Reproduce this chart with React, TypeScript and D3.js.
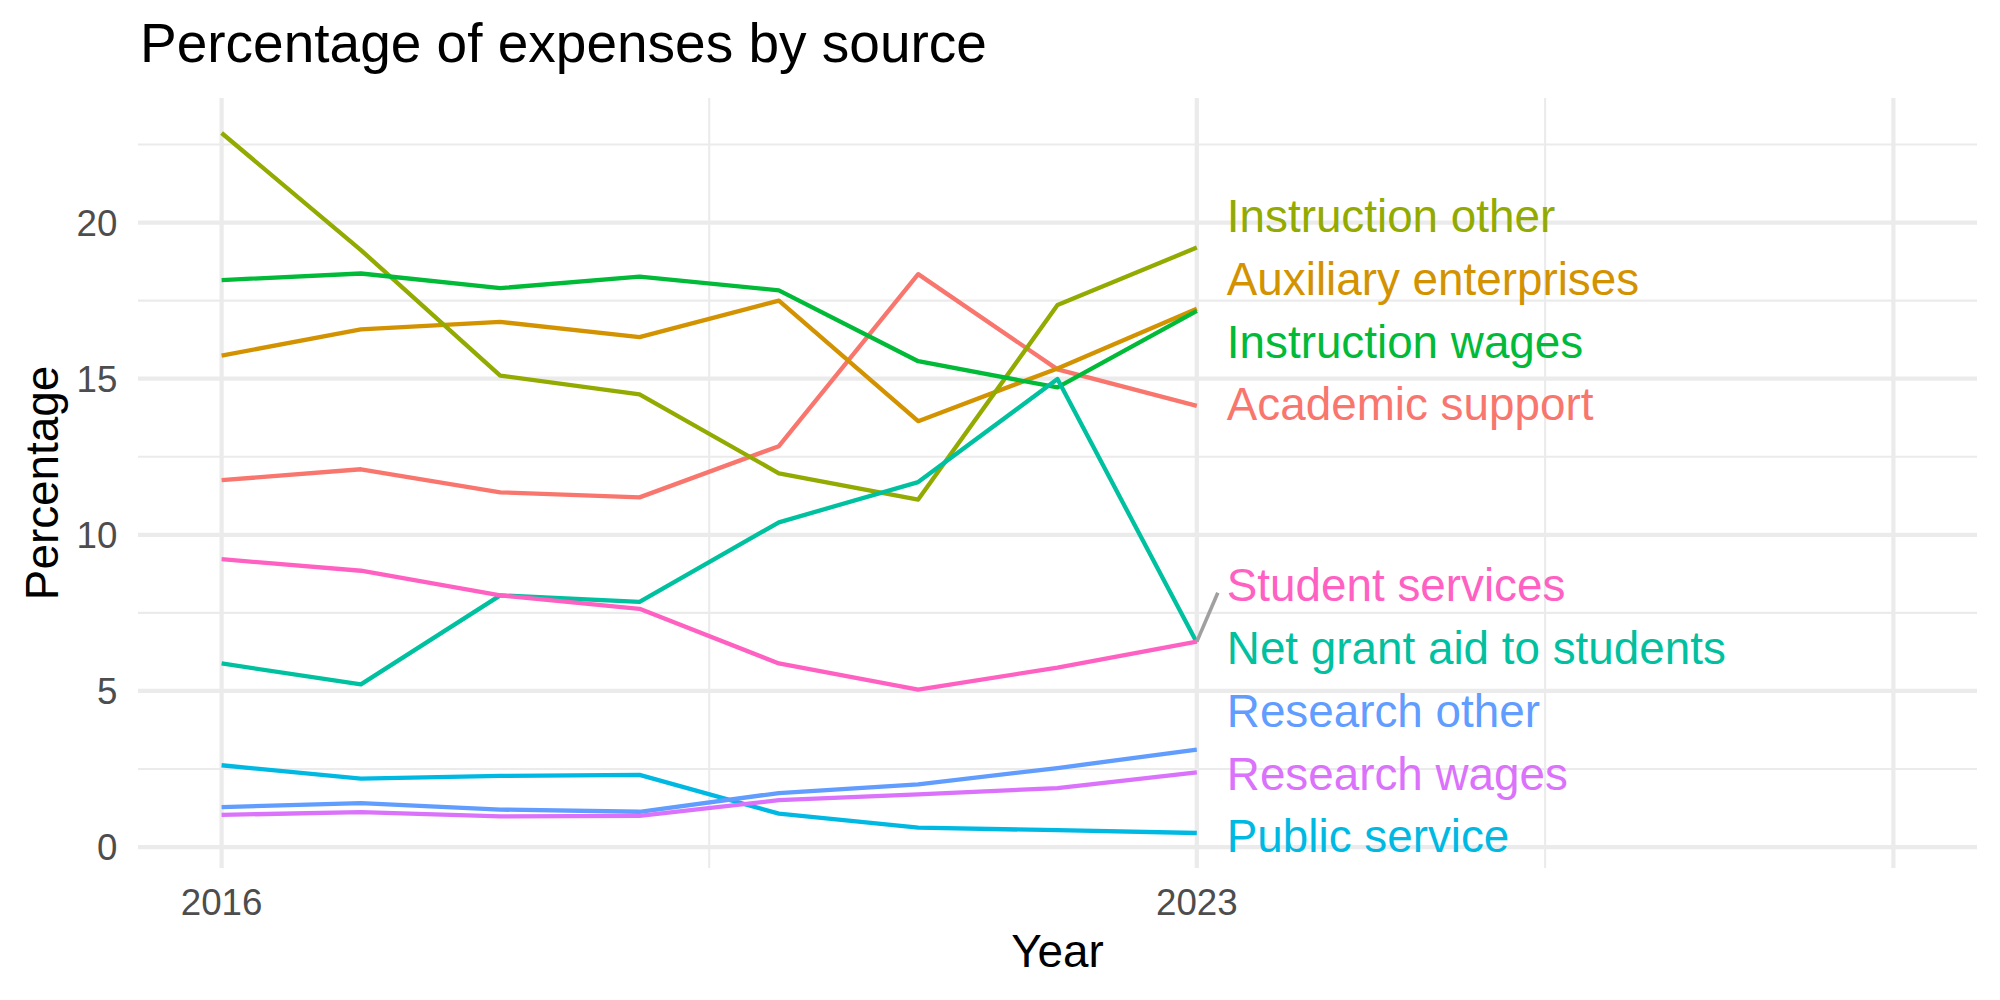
import React from "react";
import * as d3 from "d3";

// ---- Data -----------------------------------------------------------------
const years = [2016, 2017, 2018, 2019, 2020, 2021, 2022, 2023];

const academicSupport = [11.75, 12.1, 11.36, 11.2, 12.84, 18.35, 15.3, 14.13];
const auxiliaryEnterprises = [15.74, 16.58, 16.82, 16.33, 17.5, 13.64, 15.33, 17.24];
const instructionOther = [22.87, 19.12, 15.1, 14.5, 11.97, 11.13, 17.36, 19.2];
const instructionWages = [18.16, 18.37, 17.9, 18.27, 17.83, 15.56, 14.72, 17.17];
const netGrantAid = [5.88, 5.21, 8.06, 7.85, 10.4, 11.69, 14.99, 6.55];
const publicService = [2.62, 2.19, 2.28, 2.31, 1.07, 0.62, 0.54, 0.45];
const researchOther = [1.28, 1.41, 1.2, 1.13, 1.73, 2.01, 2.53, 3.12];
const researchWages = [1.03, 1.12, 0.98, 1.0, 1.5, 1.69, 1.89, 2.39];
const studentServices = [9.22, 8.85, 8.06, 7.63, 5.88, 5.04, 5.75, 6.58];

const categories = [
  "Academic support",
  "Auxiliary enterprises",
  "Instruction other",
  "Instruction wages",
  "Net grant aid to students",
  "Public service",
  "Research other",
  "Research wages",
  "Student services",
];
const categoryValues = [
  academicSupport,
  auxiliaryEnterprises,
  instructionOther,
  instructionWages,
  netGrantAid,
  publicService,
  researchOther,
  researchWages,
  studentServices,
];
const categoryColors = [
  "#F8766D",
  "#D39200",
  "#93AA00",
  "#00BA38",
  "#00C19F",
  "#00B9E3",
  "#619CFF",
  "#DB72FB",
  "#FF61C3",
];

const yBreaks = [0, 5, 10, 15, 20];
const yMinorBreaks = [2.5, 7.5, 12.5, 17.5, 22.5];
const xBreaks = [2016, 2023, 2028];
const xBreakLabels = ["2016", "2023", ""];
const xMinorBreaks = [2019.5, 2025.5];

const titleText = "Percentage of expenses by source";
const xTitle = "Year";
const yTitle = "Percentage";

// ---- Layout ---------------------------------------------------------------
const W = 2000;
const H = 1000;
const panel = { left: 138, right: 1977, top: 98, bottom: 868 };
const FONT = "'Liberation Sans', Arial, Helvetica, sans-serif";
const GRID = "#EBEBEB";
const AXIS_TEXT = "#4D4D4D";
const LABEL_SIZE = 45.8;
const LABEL_GAP = 62.8;
const LABEL_OFFSET = 30;

const expand = ([a, b]: [number, number]): [number, number] => {
  const d = (b - a) * 0.05;
  return [a - d, b + d];
};

const allValues = categoryValues.flat();
const x = d3
  .scaleLinear()
  .domain(expand([d3.min(years)!, d3.max(xBreaks)!]))
  .range([panel.left, panel.right]);
const y = d3
  .scaleLinear()
  .domain(expand(d3.extent(allValues) as [number, number]))
  .range([panel.bottom, panel.top]);

const line = d3
  .line<number>()
  .x((_, i) => x(years[i]))
  .y((d) => y(d));

// Place end labels in a column, spreading overlapping ones apart around
// the median of their anchors and keeping them inside the panel.
type Placed = { idx: number; target: number; pos: number };
function placeLabels(): Placed[] {
  const minC = panel.top + 32;
  const maxC = panel.bottom - 32;
  const items = categoryValues
    .map((v, idx) => ({ idx, target: y(v[v.length - 1]) }))
    .sort((a, b) => a.target - b.target);
  type Cluster = { members: { idx: number; target: number }[]; first: number };
  const clusters: Cluster[] = [];
  const settle = (c: Cluster) => {
    const centre = d3.median(c.members, (m) => m.target)!;
    let first = centre - ((c.members.length - 1) / 2) * LABEL_GAP;
    const last = first + (c.members.length - 1) * LABEL_GAP;
    if (last > maxC) first -= last - maxC;
    if (first < minC) first = minC;
    c.first = first;
  };
  for (const it of items) {
    const c: Cluster = { members: [it], first: it.target };
    settle(c);
    clusters.push(c);
    while (clusters.length > 1) {
      const cur = clusters[clusters.length - 1];
      const prev = clusters[clusters.length - 2];
      if (prev.first + prev.members.length * LABEL_GAP > cur.first) {
        prev.members.push(...cur.members);
        clusters.pop();
        settle(prev);
      } else break;
    }
  }
  const out: Placed[] = [];
  clusters.forEach((c) =>
    c.members.forEach((m, k) => out.push({ ...m, pos: c.first + k * LABEL_GAP }))
  );
  return out;
}

export default function App() {
  const labels = placeLabels();
  const lastX = x(years[years.length - 1]);
  const labelX = lastX + LABEL_OFFSET;
  const capHalf = LABEL_SIZE * 0.716 * 0.5;

  return (
    <svg
      width={W}
      height={H}
      style={{ position: "absolute", left: 0, top: 0, display: "block", background: "#fff" }}
      fontFamily={FONT}
    >
      <rect x={0} y={0} width={W} height={H} fill="#fff" />
      {/* grid */}
      <g>
        {yMinorBreaks.map((v) => (
          <line key={"ym" + v} x1={panel.left} x2={panel.right} y1={y(v)} y2={y(v)} stroke={GRID} strokeWidth={2.1} />
        ))}
        {xMinorBreaks.map((v) => (
          <line key={"xm" + v} x1={x(v)} x2={x(v)} y1={panel.top} y2={panel.bottom} stroke={GRID} strokeWidth={2.1} />
        ))}
        {yBreaks.map((v) => (
          <line key={"y" + v} x1={panel.left} x2={panel.right} y1={y(v)} y2={y(v)} stroke={GRID} strokeWidth={4.2} />
        ))}
        {xBreaks.map((v) => (
          <line key={"x" + v} x1={x(v)} x2={x(v)} y1={panel.top} y2={panel.bottom} stroke={GRID} strokeWidth={4.2} />
        ))}
      </g>

      {/* series */}
      <g fill="none" strokeLinejoin="round" strokeWidth={4.3}>
        {categoryValues.map((vals, i) => (
          <path key={categories[i]} d={line(vals) || ""} stroke={categoryColors[i]} />
        ))}
      </g>

      {/* end labels */}
      <g>
        {labels.map((l) => {
          const py = l.target;
          const outside = Math.max(0, Math.abs(py - l.pos) - 34);
          const below = py > l.pos;
          return (
            <g key={"lab" + l.idx}>
              {outside > 10 && (
                <line
                  x1={lastX}
                  y1={py}
                  x2={labelX - 9}
                  y2={l.pos + (below ? 8 : -8)}
                  stroke="#A0A0A0"
                  strokeWidth={3.6}
                />
              )}
              <text
                x={labelX}
                y={l.pos + capHalf}
                fontSize={LABEL_SIZE}
                fill={categoryColors[l.idx]}
              >
                {categories[l.idx]}
              </text>
            </g>
          );
        })}
      </g>

      {/* axes */}
      <g fontSize={36.7} fill={AXIS_TEXT}>
        {yBreaks.map((v) => (
          <text key={"yt" + v} x={panel.left - 20.7} y={y(v) + 13.1} textAnchor="end">
            {String(v)}
          </text>
        ))}
        {xBreaks.map((v, i) => (
          <text key={"xt" + v} x={x(v)} y={915} textAnchor="middle">
            {xBreakLabels[i]}
          </text>
        ))}
      </g>
      <text
        x={(panel.left + panel.right) / 2}
        y={967}
        textAnchor="middle"
        fontSize={45.8}
        fill="#000"
      >
        {xTitle}
      </text>
      <text
        transform={`translate(58, ${(panel.top + panel.bottom) / 2}) rotate(-90)`}
        textAnchor="middle"
        fontSize={45.8}
        fill="#000"
      >
        {yTitle}
      </text>
      <text x={140} y={62} fontSize={55} fill="#000">
        {titleText}
      </text>
    </svg>
  );
}
